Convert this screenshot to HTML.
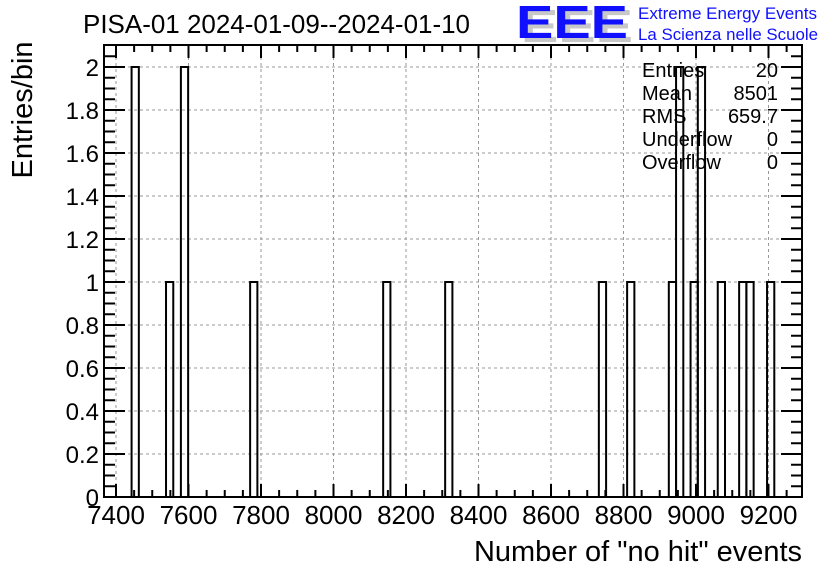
<!DOCTYPE html>
<html><head><meta charset="utf-8"><style>
body{margin:0;background:#fff;}
svg{display:block;font-family:"Liberation Sans",sans-serif;}
</style></head><body>
<svg id="c" width="836" height="572" viewBox="0 0 836 572">
<text x="83" y="33" font-size="26" textLength="387" lengthAdjust="spacingAndGlyphs">PISA-01 2024-01-09--2024-01-10</text>
<g>
<text x="521" y="42" font-size="46" font-weight="bold" fill="#c8c8c8" textLength="112" lengthAdjust="spacingAndGlyphs">EEE</text>
<text x="516" y="38" font-size="46" font-weight="bold" fill="#1010ff" textLength="112" lengthAdjust="spacingAndGlyphs">EEE</text>
<text x="638" y="19" font-size="17" fill="#1010ff" textLength="179" lengthAdjust="spacingAndGlyphs">Extreme Energy Events</text>
<text x="638" y="40" font-size="17" fill="#1010ff" textLength="180" lengthAdjust="spacingAndGlyphs">La Scienza nelle Scuole</text>
</g>
<g id="grid"></g>
<g id="bars"></g>
<rect x="104" y="45" width="698" height="452" fill="none" stroke="#000" stroke-width="2"/>
<g id="ticks"></g>
<g font-size="20">
<text x="642" y="77">Entries</text><text x="778" y="77" text-anchor="end">20</text>
<text x="642" y="100">Mean</text><text x="778" y="100" text-anchor="end">8501</text>
<text x="642" y="123">RMS</text><text x="778" y="123" text-anchor="end">659.7</text>
<text x="642" y="146">Underflow</text><text x="778" y="146" text-anchor="end">0</text>
<text x="642" y="169">Overflow</text><text x="778" y="169" text-anchor="end">0</text>
</g>
<text x="802" y="561" font-size="29" text-anchor="end" textLength="328" lengthAdjust="spacingAndGlyphs">Number of "no hit" events</text>
<text transform="translate(32,110) rotate(-90)" font-size="29" text-anchor="middle">Entries/bin</text>
</svg>
<script>
const binStarts=[7443,7538,7579,7770,8137,8308,8732,8810,8925,8945,8985,9005,9060,9119,9139,9196];
const counts=[2,1,2,1,1,1,1,1,1,2,1,2,1,1,1,1];
const binWidth=20;
const xTicks=[7400,7600,7800,8000,8200,8400,8600,8800,9000,9200];
const yTicks=[0,0.2,0.4,0.6,0.8,1,1.2,1.4,1.6,1.8,2];
const yLabels=["0","0.2","0.4","0.6","0.8","1","1.2","1.4","1.6","1.8","2"];
const X0=104,X1=802,Y0=497,Y1=45;
const xs=v=>116+(v-7400)*0.3625;
const ys=v=>497-v*215;
const NS="http://www.w3.org/2000/svg";
function mk(t,a,p){const e=document.createElementNS(NS,t);for(const k in a)e.setAttribute(k,a[k]);p.appendChild(e);return e;}
const grid=document.getElementById('grid'),ticks=document.getElementById('ticks'),bars=document.getElementById('bars');
xTicks.forEach(v=>{const x=xs(v);
 const g=mk('line',{x1:x,x2:x,y1:Y1,y2:Y0,stroke:'#999','stroke-dasharray':'3,3'},grid);
 
 
 const t=mk('text',{x:x,y:524,'font-size':26,'text-anchor':'middle'},ticks);t.textContent=v;
 
 
});
for(let v=7350;v<=9300;v+=50){const x=xs(v);if(x<X0||x>X1)continue;const L=(v%200===0)?13:7;
 mk('line',{x1:x,x2:x,y1:Y0,y2:Y0-L,stroke:'#000','stroke-width':2},ticks);
 mk('line',{x1:x,x2:x,y1:Y1,y2:Y1+L,stroke:'#000','stroke-width':2},ticks);}
yTicks.forEach((v,i)=>{const y=ys(v);
 if(v>0){const g=mk('line',{x1:X0,x2:X1,y1:y,y2:y,stroke:'#999','stroke-dasharray':'3,3'},grid);
 
 }
 const t=mk('text',{x:99,y:y+9,'font-size':24,'text-anchor':'end'},ticks);t.textContent=yLabels[i];
 
 
});
for(let k=0;k<=41;k++){const v=k*0.05;const y=ys(v);if(y<Y1)continue;const L=(k%4===0)?21:11;
 mk('line',{x1:X0,x2:X0+L,y1:y,y2:y,stroke:'#000','stroke-width':2},ticks);
 mk('line',{x1:X1,x2:X1-L,y1:y,y2:y,stroke:'#000','stroke-width':2},ticks);}
binStarts.forEach((b,i)=>{const x=xs(b),w=binWidth*0.3625,y=ys(counts[i]);
 const p=mk('path',{d:`M${x},${Y0}V${y}H${x+w}V${Y0}`,fill:'none',stroke:'#000','stroke-width':2},bars);
 
 
});
</script>
</body></html>
